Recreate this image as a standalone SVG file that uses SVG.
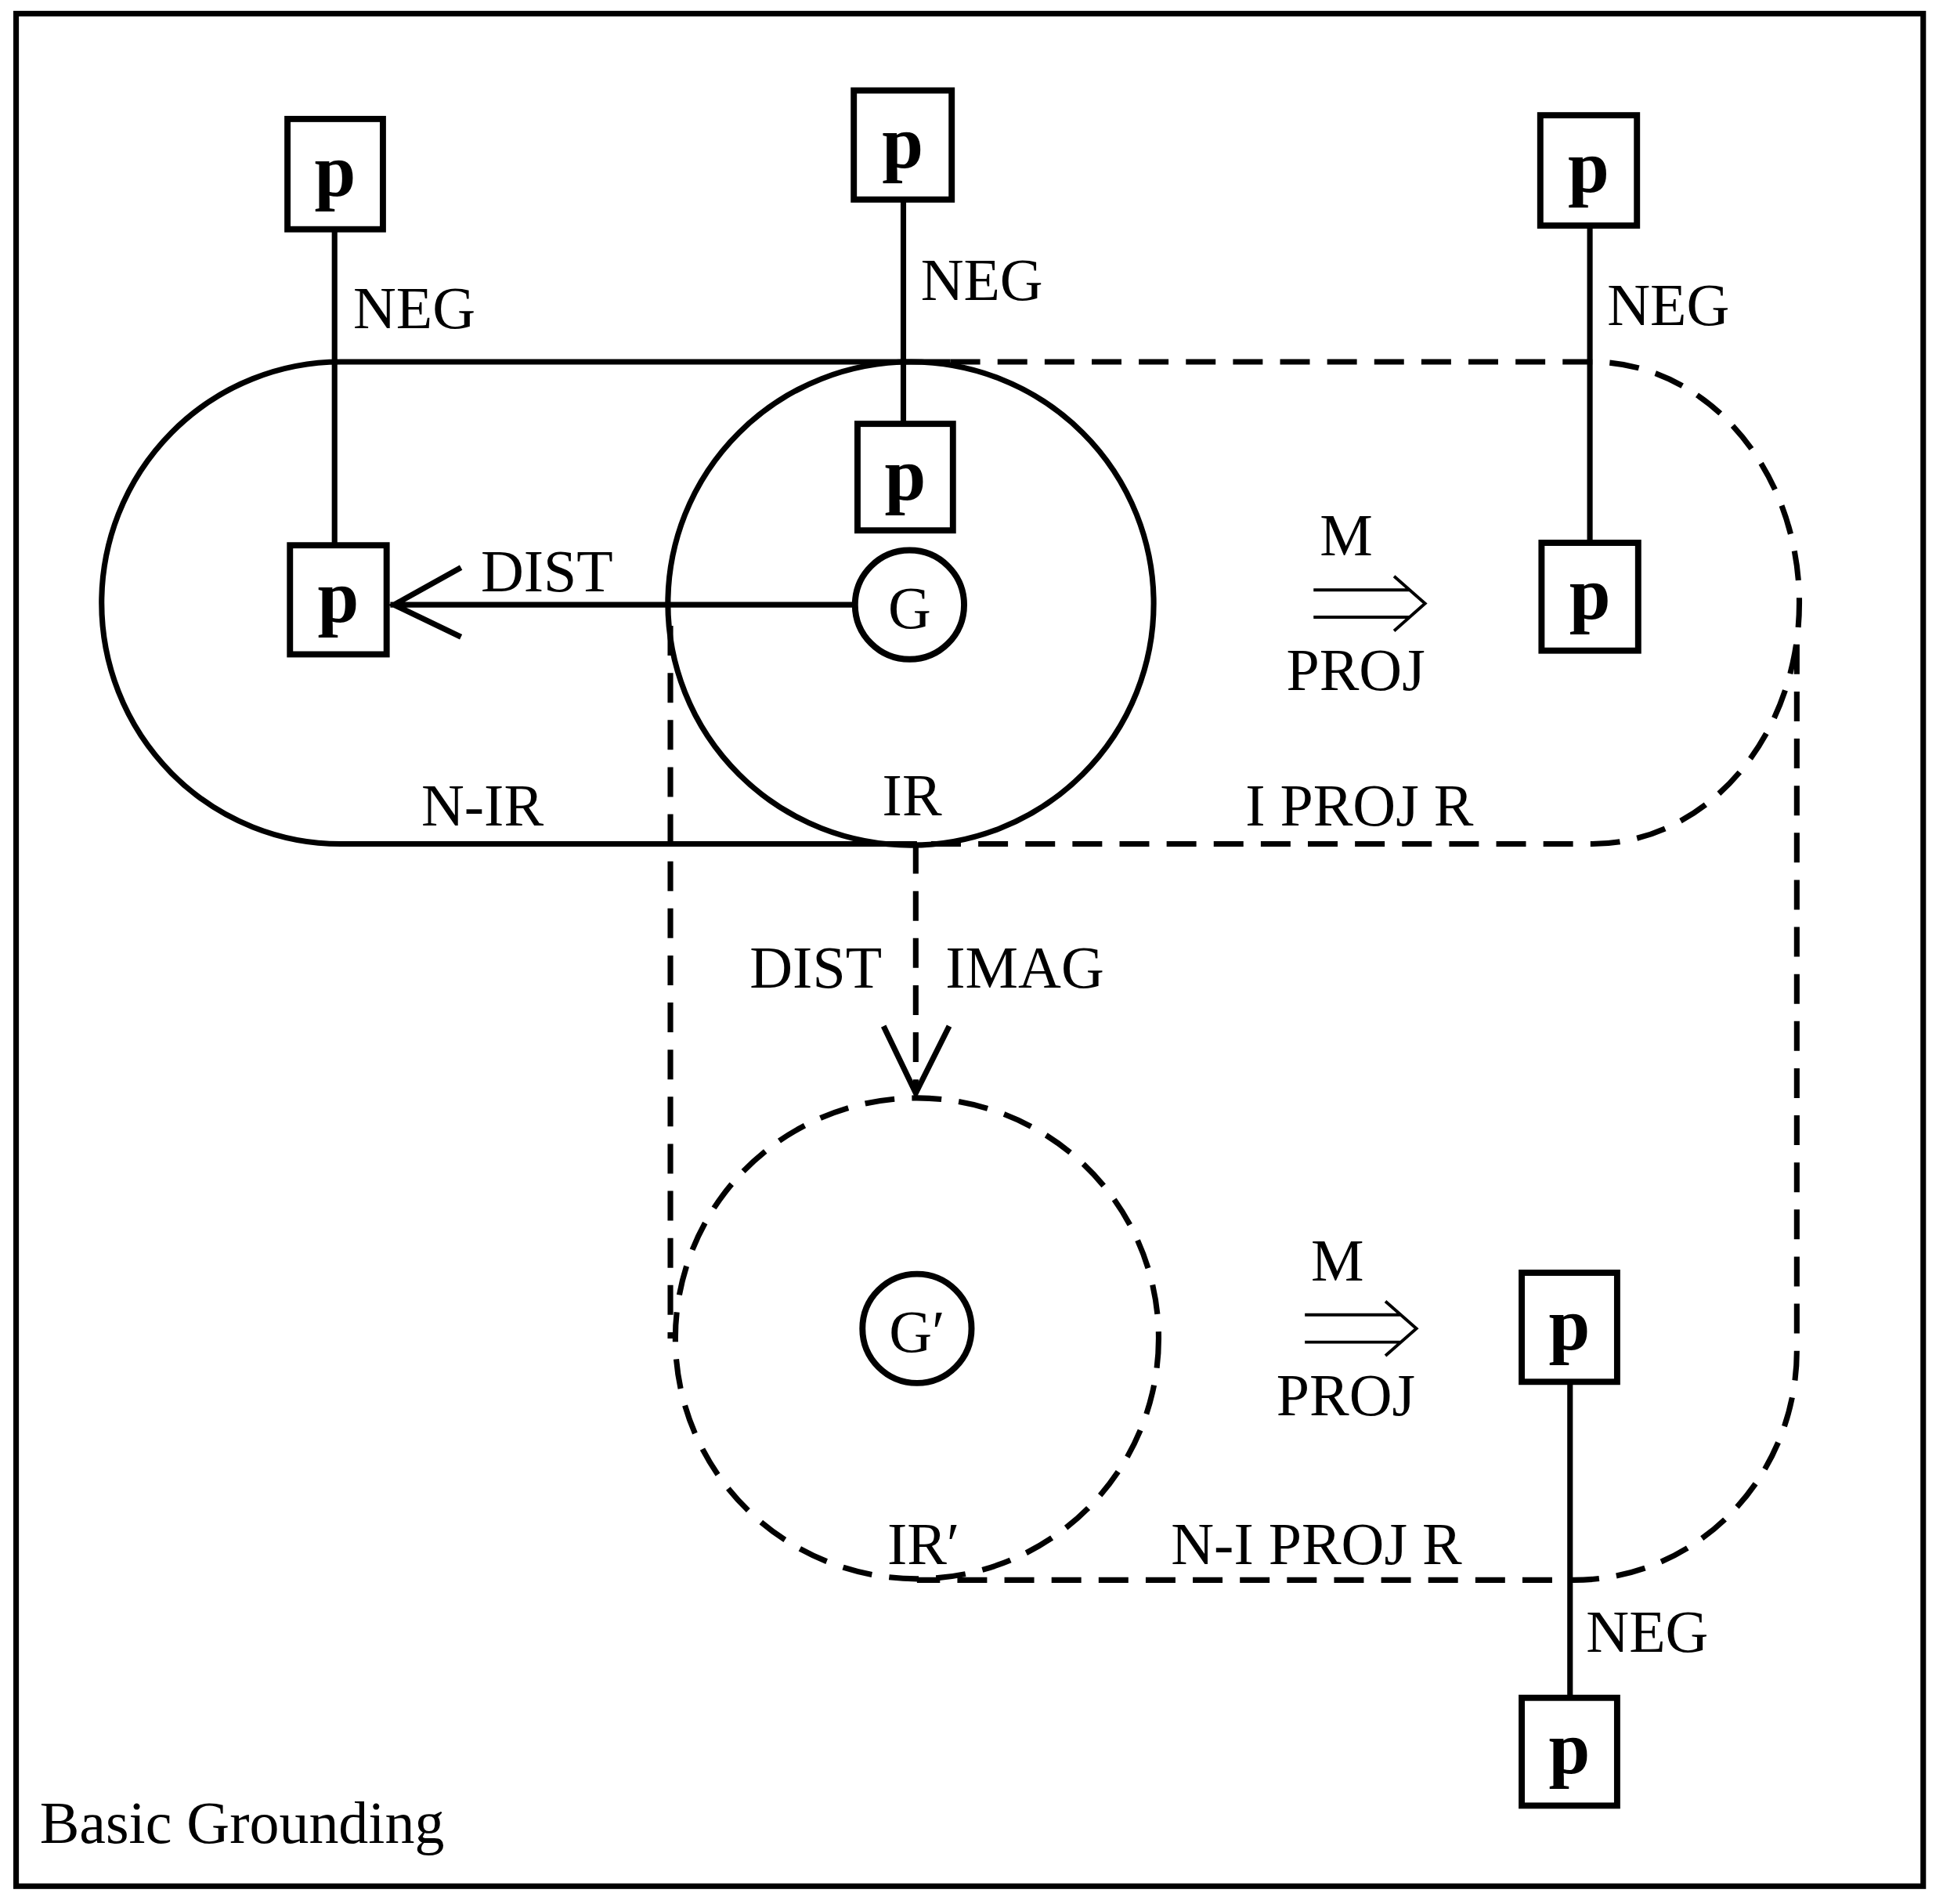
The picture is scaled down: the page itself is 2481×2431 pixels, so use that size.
<svg xmlns="http://www.w3.org/2000/svg" width="2481" height="2431" viewBox="0 0 2481 2431">
<style>
.s{fill:none;stroke:#000;stroke-width:4.5}
.d{fill:none;stroke:#000;stroke-width:4.5;stroke-dasharray:24 14}
.t{font-family:"Liberation Serif",serif;font-size:48px;fill:#000}
.p{font-family:"Liberation Serif",serif;font-size:60px;font-weight:bold;fill:#000;text-anchor:middle}
.b{fill:#fff;stroke:#000;stroke-width:5}
.a{fill:none;stroke:#000;stroke-width:2.5}
</style>
<rect width="2481" height="2431" fill="#fff"/>
<g transform="scale(1.5823)">
<rect x="13" y="11" width="1539" height="1511" class="s" stroke-width="4"/>
<g id="connectors">
<path class="s" d="M275 292 H767 M275 681 H740 M275 292 A193 194.5 0 0 0 275 681"/>
<ellipse cx="735" cy="487" rx="196" ry="195" class="s"/>
<path class="d" d="M767 292 H1285 A167 194.5 0 0 1 1285 681 H740"/>
<ellipse cx="740" cy="1080" rx="195" ry="194" class="d"/>
<path class="d" d="M541 505 V1080 M1450 520 V1090 A180 185 0 0 1 1270 1275 H740"/>
<path class="s" d="M270 185 V440 M729 161 V342 M1283 182 V438 M1267 1115 V1370"/>
<path class="s" d="M690 488 H315 M372 458 L318 488 L372 514"/>
<path class="d" d="M739 681 V880"/>
<path class="s" d="M713 828 L739 882 L766 828"/>
<path class="a" d="M1060 476 H1138 M1060 498 H1138 M1125 465 L1150 487 L1125 509"/>
<path class="a" d="M1053 1061 H1131 M1053 1083 H1131 M1118 1050 L1143 1072 L1118 1094"/>
</g>
<g id="n1"><rect x="232" y="96" width="77" height="89" class="b"/><text x="270.5" y="158" class="p">p</text></g>
<g id="n2"><rect x="234" y="440" width="78" height="88" class="b"/><text x="273" y="502" class="p">p</text></g>
<g id="n3"><rect x="689" y="73" width="79" height="88" class="b"/><text x="728.5" y="135" class="p">p</text></g>
<g id="n4"><rect x="692" y="342" width="77" height="86" class="b"/><text x="730.5" y="403" class="p">p</text></g>
<g id="n5"><rect x="1243" y="93" width="78" height="89" class="b"/><text x="1282" y="155" class="p">p</text></g>
<g id="n6"><rect x="1244" y="438" width="78" height="87" class="b"/><text x="1283" y="499" class="p">p</text></g>
<g id="n7"><rect x="1228" y="1027" width="77" height="88" class="b"/><text x="1266.5" y="1089" class="p">p</text></g>
<g id="n8"><rect x="1228" y="1370" width="77" height="87" class="b"/><text x="1266.5" y="1431" class="p">p</text></g>
<g id="G"><circle cx="734" cy="488" r="44" class="b"/><text x="734" y="507" class="t" text-anchor="middle" font-size="54">G</text></g>
<g id="G2"><circle cx="740" cy="1072" r="44" class="b"/><text x="740" y="1091" class="t" text-anchor="middle" font-size="54">G′</text></g>
<g id="labels">
<text x="285" y="265" class="t">NEG</text>
<text x="743" y="242" class="t">NEG</text>
<text x="1297" y="262" class="t">NEG</text>
<text x="1280" y="1333" class="t">NEG</text>
<text x="388" y="477" class="t">DIST</text>
<text x="1065" y="448" class="t">M</text>
<text x="1038" y="557" class="t">PROJ</text>
<text x="1058" y="1033" class="t">M</text>
<text x="1030" y="1142" class="t">PROJ</text>
<text x="340" y="666" class="t">N-IR</text>
<text x="712" y="658" class="t">IR</text>
<text x="1005" y="666" class="t">I PROJ R</text>
<text x="605" y="797" class="t">DIST</text>
<text x="763" y="797" class="t">IMAG</text>
<text x="716" y="1262" class="t">IR′</text>
<text x="945" y="1262" class="t">N-I PROJ R</text>
<text x="32" y="1487" class="t" font-size="62">Basic Grounding</text>
</g>
</g>
</svg>
